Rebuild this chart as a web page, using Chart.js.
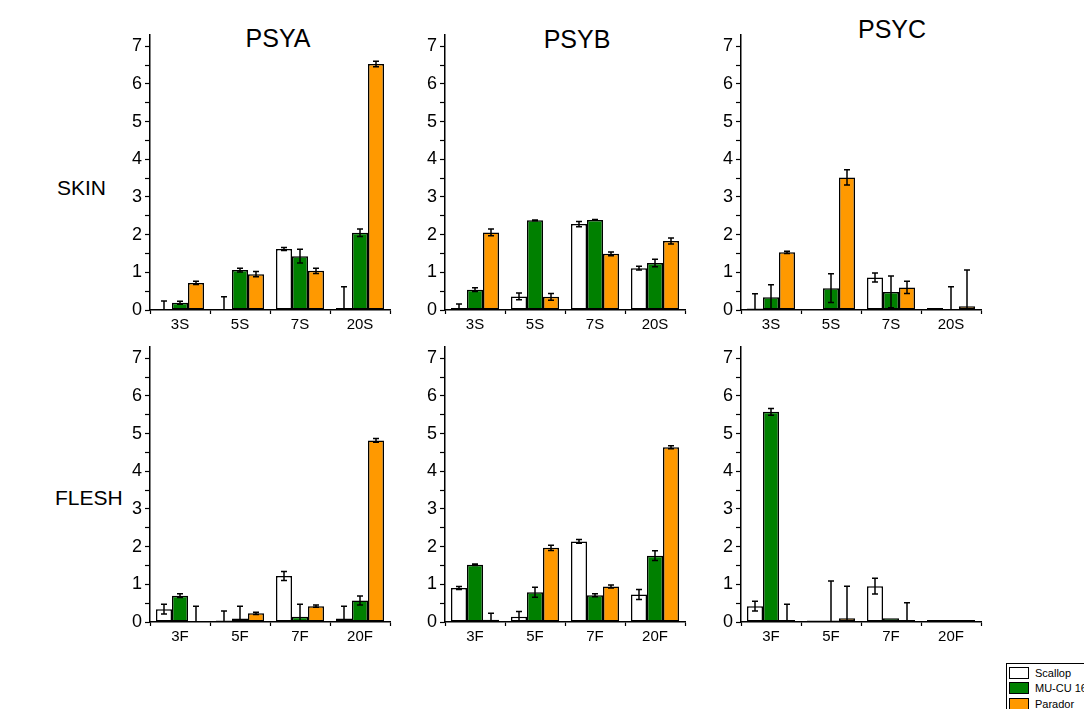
<!DOCTYPE html>
<html>
<head>
<meta charset="utf-8">
<title>PSY content in skin and flesh</title>
<script src="https://cdn.jsdelivr.net/npm/chart.js@4.4.0/dist/chart.umd.min.js"></script>
<style>
    body {
        margin: 0;
        width: 1084px;
        height: 709px;
        position: relative;
        overflow: hidden;
        background: #fff;
        font-family: "Liberation Sans", Arial, sans-serif;
        color: #000;
    }
    .panel { position: absolute; width: 297px; height: 314px; }
    .title { position: absolute; font-size: 25px; transform: translate(-50%, -50%); white-space: nowrap; }
    .row-label { position: absolute; font-size: 21px; transform: translateY(-50%); white-space: nowrap; }
    .legend {
        position: absolute; left: 1006px; top: 663px; width: 90px; height: 60px;
        border: 1px solid #000; box-sizing: border-box; padding-top: 1px; font-size: 11px;
    }
    .legend-row { display: flex; align-items: center; height: 15.5px; }
    .legend-swatch { width: 20px; height: 12px; border: 1px solid #000; margin: 0 6px 0 2px; box-sizing: border-box; }
</style>
</head>
<body>

<div class="title" style="left:278px; top:38px;">PSYA</div>
<div class="title" style="left:577px; top:39px;">PSYB</div>
<div class="title" style="left:892px; top:29px;">PSYC</div>
<div class="row-label" style="left:57px; top:188px;">SKIN</div>
<div class="row-label" style="left:55px; top:498px;">FLESH</div>

<div class="panel" style="left:105px; top:21px;"><canvas id="psyaSkin"></canvas></div>
<div class="panel" style="left:400px; top:21px;"><canvas id="psybSkin"></canvas></div>
<div class="panel" style="left:696px; top:21px;"><canvas id="psycSkin"></canvas></div>
<div class="panel" style="left:105px; top:333px;"><canvas id="psyaFlesh"></canvas></div>
<div class="panel" style="left:400px; top:333px;"><canvas id="psybFlesh"></canvas></div>
<div class="panel" style="left:696px; top:333px;"><canvas id="psycFlesh"></canvas></div>

<div class="legend" id="legend"></div>

<script>
const skinLabels = ['3S', '5S', '7S', '20S'];
const fleshLabels = ['3F', '5F', '7F', '20F'];
const seriesNames = ['Scallop', 'MU-CU 16', 'Parador'];
const seriesColors = ['#ffffff', '#008000', '#ff9900'];
const yTicks = [0, 1, 2, 3, 4, 5, 6, 7];

// one row per series (Scallop, MU-CU 16, Parador), one column per sample
const psyaSkinMean = [[0.00, 0.00, 1.62, 0.05], [0.19, 1.06, 1.43, 2.05], [0.72, 0.95, 1.04, 6.53]];
const psyaSkinErr  = [[0.24, 0.35, 0.04, 0.57], [0.04, 0.05, 0.18, 0.10], [0.04, 0.07, 0.07, 0.07]];

const psybSkinMean = [[0.05, 0.36, 2.28, 1.11], [0.54, 2.38, 2.39, 1.25], [2.06, 0.35, 1.49, 1.83]];
const psybSkinErr  = [[0.11, 0.09, 0.07, 0.05], [0.05, 0.01, 0.01, 0.10], [0.09, 0.09, 0.05, 0.08]];

const psycSkinMean = [[0.04, 0.00, 0.86, 0.05], [0.34, 0.58, 0.48, 0.00], [1.53, 3.52, 0.60, 0.10]];
const psycSkinErr  = [[0.39, 0.00, 0.12, 0.00], [0.33, 0.38, 0.42, 0.62], [0.03, 0.20, 0.16, 0.96]];

const psyaFleshMean = [[0.34, 0.04, 1.22, 0.09], [0.70, 0.09, 0.14, 0.57], [0.00, 0.23, 0.42, 4.82]];
const psyaFleshErr  = [[0.13, 0.25, 0.12, 0.33], [0.05, 0.33, 0.33, 0.12], [0.42, 0.03, 0.03, 0.05]];

const psybFleshMean = [[0.90, 0.14, 2.14, 0.73], [1.52, 0.79, 0.71, 1.76], [0.06, 1.97, 0.94, 4.64]];
const psybFleshErr  = [[0.04, 0.14, 0.05, 0.13], [0.02, 0.13, 0.04, 0.13], [0.17, 0.07, 0.04, 0.04]];

const psycFleshMean = [[0.42, 0.04, 0.95, 0.05], [5.58, 0.04, 0.10, 0.05], [0.05, 0.10, 0.05, 0.05]];
const psycFleshErr  = [[0.13, 0.00, 0.21, 0.00], [0.09, 1.05, 0.00, 0.00], [0.42, 0.85, 0.46, 0.00]];

// ticks every half unit, labels only on whole units
const yTickValues = yTicks.flatMap(v => v < yTicks[yTicks.length - 1] ? [v, v + 0.5] : [v]);

// draws +/- error whiskers on every bar, clipped to the plot area
const errorBarsPlugin = {
    id: 'errorBars',
    afterDatasetsDraw(chart) {
        const { ctx, chartArea, scales } = chart;
        const y = scales.y;
        ctx.save();
        ctx.beginPath();
        ctx.rect(chartArea.left, chartArea.top - 2, chartArea.width, chartArea.height + 2);
        ctx.clip();
        ctx.strokeStyle = '#000';
        ctx.lineWidth = 1.5;
        chart.data.datasets.forEach((ds, i) => {
            const meta = chart.getDatasetMeta(i);
            meta.data.forEach((bar, j) => {
                const err = ds.errors[j];
                if (!err) return;
                const v = ds.data[j];
                const yTop = y.getPixelForValue(v + err);
                const yBot = y.getPixelForValue(Math.max(v - err, 0));
                ctx.beginPath();
                ctx.moveTo(bar.x, yTop);
                ctx.lineTo(bar.x, yBot);
                ctx.moveTo(bar.x - 3, yTop);
                ctx.lineTo(bar.x + 3, yTop);
                if (v - err > 0) {
                    ctx.moveTo(bar.x - 3, yBot);
                    ctx.lineTo(bar.x + 3, yBot);
                }
                ctx.stroke();
            });
        });
        ctx.restore();
    }
};

function buildPanel(canvasId, labels, means, errs) {
    const datasets = means.map((values, i) => ({
        label: seriesNames[i],
        data: values,
        errors: errs[i],
        backgroundColor: seriesColors[i],
        borderColor: '#000',
        borderWidth: 1.5,
        borderSkipped: false,
        categoryPercentage: 0.8,
        barPercentage: 1.0
    }));

    return new Chart(document.getElementById(canvasId), {
        type: 'bar',
        data: { labels: labels, datasets: datasets },
        plugins: [errorBarsPlugin],
        options: {
            responsive: true,
            maintainAspectRatio: false,
            animation: false,
            layout: { padding: { top: 14, right: 12, left: 0, bottom: 0 } },
            plugins: {
                legend: { display: false },
                tooltip: { enabled: false }
            },
            scales: {
                x: {
                    grid: { drawOnChartArea: false, offset: true, tickLength: 4, color: '#000', tickColor: '#000', tickWidth: 1.2 },
                    border: { color: '#000', width: 1.5 },
                    ticks: { color: '#000', font: { family: '"Liberation Sans", Arial', size: 15 }, padding: 2, maxRotation: 0 },
                    afterFit: s => { s.height = 25; }
                },
                y: {
                    min: 0,
                    max: 7.3,
                    afterBuildTicks: s => { s.ticks = yTickValues.map(v => ({ value: v })); },
                    grid: { drawOnChartArea: false, tickLength: 5, tickWidth: 1.2, tickColor: '#000' },
                    border: { color: '#000', width: 1.5 },
                    ticks: {
                        autoSkip: false,
                        color: '#000',
                        padding: 3,
                        font: { family: '"Liberation Sans", Arial', size: 18 },
                        callback: v => yTicks.includes(v) ? v : ''
                    },
                    afterFit: s => { s.width = 45; }
                }
            }
        }
    });
}

function buildLegend() {
    const box = document.getElementById('legend');
    seriesNames.forEach((name, i) => {
        const row = document.createElement('div');
        row.className = 'legend-row';
        const sw = document.createElement('span');
        sw.className = 'legend-swatch';
        sw.style.background = seriesColors[i];
        const txt = document.createElement('span');
        txt.textContent = name;
        row.appendChild(sw);
        row.appendChild(txt);
        box.appendChild(row);
    });
}

buildPanel('psyaSkin', skinLabels, psyaSkinMean, psyaSkinErr);
buildPanel('psybSkin', skinLabels, psybSkinMean, psybSkinErr);
buildPanel('psycSkin', skinLabels, psycSkinMean, psycSkinErr);
buildPanel('psyaFlesh', fleshLabels, psyaFleshMean, psyaFleshErr);
buildPanel('psybFlesh', fleshLabels, psybFleshMean, psybFleshErr);
buildPanel('psycFlesh', fleshLabels, psycFleshMean, psycFleshErr);
buildLegend();
</script>
</body>
</html>
